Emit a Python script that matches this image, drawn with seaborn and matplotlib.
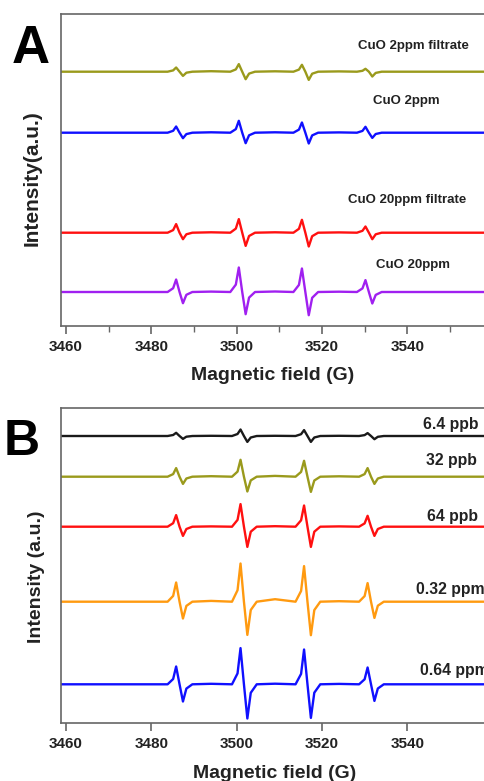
import numpy as np
import pandas as pd
import matplotlib
matplotlib.use('Agg')
from matplotlib import pyplot as plt
from matplotlib.ticker import MultipleLocator
import seaborn as sns

# field grid (G): start, 4 lines x 7 pts with midpoints between, end
field_A = [3458.8,
           3483.8, 3485.1, 3485.8, 3486.6, 3487.4, 3488.2, 3489.6, 3494.0,
           3498.5, 3499.8, 3500.5, 3501.3, 3502.1, 3502.9, 3504.3, 3509.0,
           3513.3, 3514.6, 3515.3, 3516.1, 3516.9, 3517.7, 3519.1, 3524.0,
           3528.2, 3529.5, 3530.2, 3531.0, 3531.8, 3532.6, 3534.0, 3560.0]
field_B = [3458.8,
           3483.8, 3485.1, 3485.8, 3486.6, 3487.4, 3488.2, 3489.6, 3494.0,
           3498.9, 3500.2, 3500.9, 3501.7, 3502.5, 3503.3, 3504.7, 3509.0,
           3513.8, 3515.1, 3515.8, 3516.6, 3517.4, 3518.2, 3519.6, 3524.0,
           3528.7, 3530.0, 3530.7, 3531.5, 3532.3, 3533.1, 3534.5, 3560.0]

# panel A signals (relative to own baseline)
cuo2_filt = [0,
             0, 1.3, 4.2, 0, -4.2, -1.0, 0, 0.5,
             0, 2.3, 7.6, 0, -7.5, -1.9, 0, 0.4,
             0, 2.1, 6.9, 0, -8.2, -2.0, 0, 0.3,
             0, 0.9, 2.9, 0, -4.8, -1.2, 0, 0]
cuo2 = [0,
        0, 1.9, 6.2, 0, -5.5, -1.4, 0, 0.4,
        0, 3.6, 11.9, 0, -10.5, -2.6, 0, 0.4,
        0, 3.1, 10.2, 0, -10.8, -2.7, 0, 0.3,
        0, 1.8, 5.9, 0, -5.2, -1.3, 0, 0]
cuo20_filt = [0,
              0, 2.6, 8.6, 0, -6.5, -1.6, 0, 0.4,
              0, 4.1, 13.6, 0, -13.2, -3.3, 0, 0.4,
              0, 3.9, 12.9, 0, -13.8, -3.5, 0, 0.3,
              0, 1.9, 6.2, 0, -6.5, -1.6, 0, 0]
cuo20 = [0,
         0, 3.8, 12.5, 0, -11.2, -2.8, 0, 0.4,
         0, 7.4, 24.5, 0, -22.2, -5.6, 0, 0.5,
         0, 7.1, 23.5, 0, -23.2, -5.8, 0, 0.3,
         0, 3.6, 11.9, 0, -11.5, -2.9, 0, 0]

# panel B signals
ppb6_4 = [0,
          0, 1.0, 3.2, 0, -2.9, -0.7, 0, 0.2,
          0, 2.0, 6.5, 0, -5.9, -1.5, 0, 0.2,
          0, 1.8, 5.9, 0, -5.9, -1.5, 0, 0.2,
          0, 0.9, 2.9, 0, -3.2, -0.8, 0, 0]
ppb32 = [0,
         0, 2.6, 8.6, 0, -7.2, -1.8, 0, 0.5,
         0, 5.1, 16.9, 0, -14.8, -3.7, 0, 0.8,
         0, 4.8, 15.9, 0, -15.2, -3.8, 0, 0.4,
         0, 2.6, 8.6, 0, -7.2, -1.8, 0, 0]
ppb64 = [0,
         0, 3.5, 11.6, 0, -9.2, -2.3, 0, 0.3,
         0, 6.8, 22.6, 0, -20.2, -5.0, 0, 0.5,
         0, 6.4, 21.2, 0, -20.2, -5.0, 0, 0.3,
         0, 3.3, 10.9, 0, -9.2, -2.3, 0, 0]
ppm0_32 = [0,
           0, 5.8, 19.2, 0, -16.8, -4.2, 0, 0.8,
           0, 11.5, 38.2, 0, -33.2, -8.3, 0, 2.5,
           0, 10.7, 35.6, 0, -33.5, -8.4, 0, 0.5,
           0, 5.6, 18.6, 0, -16.2, -4.0, 0, 0]
ppm0_64 = [0,
           0, 5.3, 17.8, 0, -17.2, -4.3, 0, 0.5,
           0, 10.9, 36.2, 0, -34.2, -8.5, 0, 0.6,
           0, 10.4, 34.8, 0, -33.6, -8.4, 0, 0.4,
           0, 5.0, 16.8, 0, -16.6, -4.2, 0, 0]

labels_A = ['CuO 2ppm filtrate', 'CuO 2ppm', 'CuO 20ppm filtrate', 'CuO 20ppm']
series_A = [cuo2_filt, cuo2, cuo20_filt, cuo20]
offsets_A = [254, 193, 93, 33.7]
colors_A = ['#9a9a1c', '#1010ff', '#ff1010', '#a020f0']
label_pos_A = [(3541.5, 280), (3539.7, 225), (3539.9, 125.7), (3541.4, 60.7)]

labels_B = ['6.4 ppb', '32 ppb', '64 ppb', '0.32 ppm', '0.64 ppm']
series_B = [ppb6_4, ppb32, ppb64, ppm0_32, ppm0_64]
offsets_B = [287, 246.3, 196.3, 121.3, 38.7]
colors_B = ['#1a1a1a', '#9a9a1c', '#ff1010', '#ff9a10', '#1010ff']
label_pos_B = [(3550.2, 299, 'center'), (3550.4, 262, 'center'), (3550.7, 207, 'center'),
               (3542.1, 133.7, 'left'), (3542.9, 52.3, 'left')]

sns.set_theme(style='ticks')
plt.rcParams['font.family'] = ['Liberation Sans', 'DejaVu Sans']
plt.rcParams['font.weight'] = 'bold'

W, H = 484, 781
fig = plt.figure(figsize=(W / 100, H / 100), dpi=100)
axA = fig.add_axes([61 / W, 1 - 325.7 / H, (487 - 61) / W, 311.7 / H])
axB = fig.add_axes([61 / W, 1 - 723 / H, (487 - 61) / W, 314.7 / H])

for vals, off, col in zip(series_A, offsets_A, colors_A):
    sns.lineplot(x=field_A, y=np.array(vals) + off, ax=axA, color=col, lw=1.7, estimator=None,
                 solid_joinstyle='round')
for vals, off, col in zip(series_B, offsets_B, colors_B):
    sns.lineplot(x=field_B, y=np.array(vals) + off, ax=axB, color=col, lw=1.7, estimator=None,
                 solid_joinstyle='round')

for lab, (x, y) in zip(labels_A, label_pos_A):
    axA.text(x, y, lab, ha='center', va='center', fontsize=9.5, fontweight='bold', color='#222222')
for lab, (x, y, ha) in zip(labels_B, label_pos_B):
    axB.text(x, y, lab, ha=ha, va='center', fontsize=11.3, fontweight='bold', color='#222222',
             clip_on=False)

for ax, ylim in [(axA, 311.7), (axB, 314.7)]:
    ax.set_xlim(3458.8, 3558.7)
    ax.set_ylim(0, ylim)
    ax.set_yticks([])
    ax.set_xlabel('')
    ax.set_ylabel('')
    ax.xaxis.set_major_locator(MultipleLocator(20))
    for s in ['left', 'bottom', 'top', 'right']:
        ax.spines[s].set_color('#666666')
        ax.spines[s].set_linewidth(1.2)
    ax.tick_params(axis='x', direction='out', length=6, width=1.2, color='#666666',
                   labelsize=11, pad=4, labelcolor='#222222')
    for t in ax.get_xticklabels():
        t.set_fontweight('bold')

axA.xaxis.set_minor_locator(MultipleLocator(10))
axA.tick_params(axis='x', which='minor', direction='out', length=4, width=1.0, color='#666666')

fig.text(273 / W, 1 - 376 / H, 'Magnetic field (G)', ha='center', va='center',
         fontsize=14, fontweight='bold', color='#222222')
fig.text(275 / W, 1 - 773 / H, 'Magnetic field (G)', ha='center', va='center',
         fontsize=14, fontweight='bold', color='#222222')
fig.text(31.7 / W, 1 - 178 / H, 'Intensity(a.u.)', rotation=90, ha='center', va='center',
         fontsize=15, fontweight='bold', color='#222222')
fig.text(36.7 / W, 1 - 577 / H, 'Intensity (a.u.)', rotation=90, ha='center', va='center',
         fontsize=14, fontweight='bold', color='#222222')

fig.text(12 / W, 1 - 63 / H, 'A', ha='left', va='baseline', fontsize=38, fontweight='bold', color='black')
fig.text(4 / W, 1 - 455 / H, 'B', ha='left', va='baseline', fontsize=36, fontweight='bold', color='black')

fig.savefig('out.png', dpi=100)
